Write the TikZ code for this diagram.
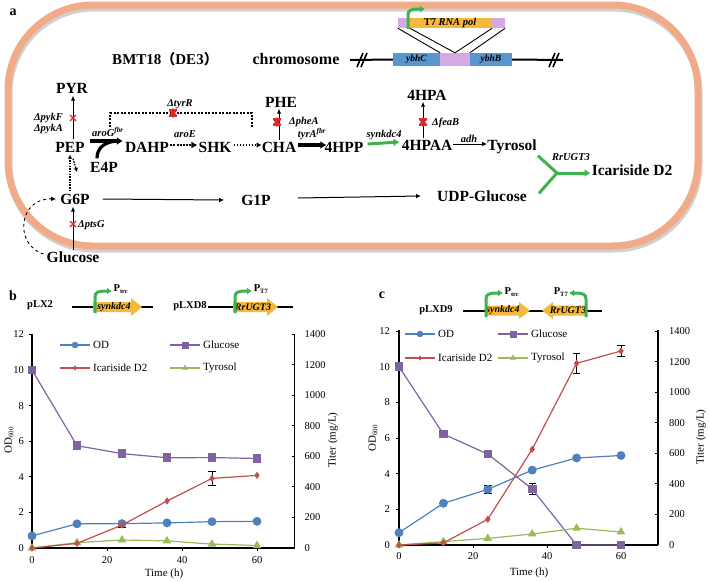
\documentclass[tikz,border=0pt]{standalone}
\usepackage{fontspec}
\setmainfont{Liberation Serif}
\newfontfamily\cjk{Noto Sans CJK SC}
\usetikzlibrary{arrows.meta,calc,plotmarks}
\definecolor{cellor}{RGB}{240,172,136}
\definecolor{genblue}{RGB}{88,150,205}
\definecolor{genpur}{RGB}{214,168,228}
\definecolor{genor}{RGB}{246,184,58}
\definecolor{prgreen}{RGB}{62,178,76}
\definecolor{kored}{RGB}{222,40,40}
\definecolor{cOD}{RGB}{79,129,189}
\definecolor{cGlu}{RGB}{128,100,162}
\definecolor{cIca}{RGB}{192,80,77}
\definecolor{cTyr}{RGB}{155,187,89}
\begin{document}
\begin{tikzpicture}[x=1pt,y=-1pt,
  met/.style={font=\fontsize{15.5}{16}\selectfont\bfseries, inner sep=0pt, text height=11pt, text depth=0pt},
  enz/.style={font=\fontsize{10.5}{11}\selectfont\bfseries\itshape, inner sep=0pt, text height=7.5pt, text depth=0pt},
  thinarr/.style={line width=1pt,-{Latex[length=5pt,width=4.5pt]}},
  fatarr/.style={line width=3.2pt,-{Latex[length=6pt,width=8pt]}},
  dotarr/.style={line width=2.6pt,dash pattern=on 2pt off 1.2pt,-{Latex[length=6pt,width=7pt]}},
  dotarrb/.style={line width=2pt,dash pattern=on 1.8pt off 1.2pt,-{Latex[length=5pt,width=5.5pt]}},
  smalldot/.style={line width=1.3pt,dash pattern=on 1.5pt off 1.2pt,-{Latex[length=4pt,width=4.5pt]}},
  grarr/.style={line width=3pt,prgreen,-{Latex[length=6pt,width=8pt]}},
  fbline/.style={line width=2pt,dash pattern=on 2pt off 1.5pt},
  kox/.style={kored,line width=1.4pt},
  kob/.style={kored,line width=2.6pt,line cap=round},
  prom/.style={line width=3pt,prgreen,-{Latex[length=5pt,width=7pt]}},
  genetxt/.style={font=\fontsize{10}{11}\selectfont\bfseries\itshape, inner sep=0pt},
  plas/.style={font=\fontsize{10.5}{11}\selectfont\bfseries, inner sep=0pt},
  plab/.style={font=\fontsize{14}{14}\selectfont\bfseries, inner sep=0pt, anchor=base},
  tick/.style={font=\fontsize{10.5}{11}\selectfont, inner sep=0pt},
  axl/.style={line width=1.8pt},
  leg/.style={font=\fontsize{11}{12}\selectfont, inner sep=0pt, anchor=west},
  serie/.style={line width=1.2pt},
  ebar/.style={line width=0.7pt}
]
\useasboundingbox (0,0) rectangle (709,581);
\fill[white] (0,0) rectangle (709,581);

% ===== cell =====
\draw[line width=7pt, black!18, rounded corners=85pt] (9,8) rectangle (699,249);
\draw[line width=7pt, cellor, rounded corners=85pt] (8,5) rectangle (698,246);
\node[plab] (la) at (13,15) {a};

\node[font=\fontsize{15}{16}\selectfont\bfseries, inner sep=0pt] (bmt) at (165,59) {BMT18{\cjk\fontsize{14}{14}\selectfont （}DE3{\cjk\fontsize{14}{14}\selectfont ）}};
\node[font=\fontsize{16}{16}\selectfont\bfseries, inner sep=0pt] (chrom) at (296,59) {chromosome};

% chromosome
\node[fill=genblue, minimum width=47pt, minimum height=13pt, inner sep=0pt, font=\fontsize{9.5}{10}\selectfont\bfseries\itshape] (ybhC) at (416.5,59.5) {ybhC};
\node[fill=genpur, minimum width=30pt, minimum height=13pt, inner sep=0pt] (mid) at (455,59.5) {};
\node[fill=genblue, minimum width=42pt, minimum height=13pt, inner sep=0pt, font=\fontsize{9.5}{10}\selectfont\bfseries\itshape] (ybhB) at (491,59.5) {ybhB};
\coordinate (chL) at (350,60);
\coordinate (chR) at (563,60);
\draw[line width=2pt] (chL) -- (ybhC.west);
\draw[line width=2pt] (ybhB.east) -- (chR);
\foreach \xx in {357,549} {
  \draw[line width=1.6pt] (\xx,67) -- (\xx+6,53);
  \draw[line width=1.6pt] (\xx+4,67) -- (\xx+10,53);
}
\node[fill=genpur, minimum width=107pt, minimum height=10pt, inner sep=0pt] (ins) at (451.5,23) {};
\node[fill=genor, minimum width=84pt, minimum height=10pt, inner sep=0pt, font=\fontsize{10.5}{11}\selectfont\bfseries] (t7) at (450,23) {T7 \textit{RNA pol}};
\draw[line width=0.9pt] (ins.south west) -- (ybhC.north east);
\draw[line width=0.9pt] ([xshift=12pt]ins.south west) -- (mid.north);
\draw[line width=0.9pt] ([xshift=-13pt]ins.south east) -- (mid.north);
\draw[line width=0.9pt] (ins.south east) -- (ybhB.north west);
\draw[prom] (408,29) -- (408,15) .. controls (408,10) and (411,9) .. (425,9);

% ===== metabolites =====
\node[met] (PYR) at (72,88) {PYR};
\node[met] (PEP) at (70,147) {PEP};
\node[met] (DAHP) at (147,147) {DAHP};
\node[met] (SHK) at (215,147) {SHK};
\node[met] (CHA) at (279,147) {CHA};
\node[met] (HPP) at (344,147) {4HPP};
\node[met] (HPAA) at (427,145) {4HPAA};
\node[met] (Tyr) at (512,145) {Tyrosol};
\node[met] (PHE) at (281,102) {PHE};
\node[met] (HPA) at (427,95) {4HPA};
\node[met] (E4P) at (104,167) {E4P};
\node[met] (G6P) at (75,199) {G6P};
\node[met] (G1P) at (256,200) {G1P};
\node[met] (UDPG) at (482,196) {UDP-Glucose};
\node[met] (Glc) at (73,257) {Glucose};
\node[met] (Ica) at (632,170) {Icariside D2};

% enzyme / deletion labels
\node[enz, anchor=east] (dpykF) at (63,117) {ΔpykF};
\node[enz, anchor=east] (dpykA) at (63,128) {ΔpykA};
\node[enz] (aroG) at (108,133) {aroG\textsuperscript{fbr}};
\node[enz] (dtyrR) at (180,103) {ΔtyrR};
\node[enz] (aroE) at (185,134) {aroE};
\node[enz] (tyrA) at (312,134) {tyrA\textsuperscript{fbr}};
\node[enz, anchor=west] (dpheA) at (289,121) {ΔpheA};
\node[enz] (synk) at (384,134) {synkdc4};
\node[enz] (adh) at (469,139) {adh};
\node[enz, anchor=west] (dfeaB) at (432,122) {ΔfeaB};
\node[enz, anchor=west] (dptsG) at (78,224) {ΔptsG};
\node[enz] (ugt) at (571,157) {RrUGT3};

% arrows
\draw[thinarr] ([xshift=3pt,yshift=2pt]PEP.north) -- ([xshift=1pt,yshift=-2pt]PYR.south);
\draw[fatarr] ([xshift=5pt,yshift=6pt]PEP.east) -- ([xshift=-2pt,yshift=6pt]DAHP.west);
\draw[line width=3.2pt] ([xshift=-7pt,yshift=3pt]E4P.north) .. controls (97,149) and (103,142) .. (117,141);
\draw[dotarr] ([xshift=1pt,yshift=2pt]DAHP.east) -- ([xshift=-1pt,yshift=2pt]SHK.west);
\draw[dotarrb] ([xshift=2pt,yshift=2pt]SHK.east) -- ([xshift=0pt,yshift=2pt]CHA.west);
\draw[fatarr] ([xshift=2pt,yshift=2pt]CHA.east) -- ([xshift=2pt,yshift=2pt]HPP.west);
\draw[grarr] ([xshift=4pt,yshift=3pt]HPP.east) -- ([xshift=-2pt,yshift=3pt]HPAA.west);
\draw[thinarr] ([xshift=1pt,yshift=1pt]HPAA.east) -- ([xshift=0pt,yshift=1pt]Tyr.west);
\draw[thinarr] ([yshift=1pt]CHA.north) -- ([xshift=-2pt,yshift=-1pt]PHE.south);
\draw[thinarr] ([xshift=-4pt,yshift=1pt]HPAA.north) -- ([xshift=-4pt,yshift=-1pt]HPA.south);
\draw[thinarr] ([xshift=13pt]G6P.east) -- ([xshift=-17pt]G1P.west);
\draw[thinarr] ([xshift=27pt,yshift=2pt]G1P.east) -- ([xshift=-16pt]UDPG.west);
\draw[thinarr] ([yshift=1pt]Glc.north) -- ([xshift=-2pt,yshift=-2pt]G6P.south);
\draw[thinarr, dashed, line width=0.9pt] ([xshift=-3pt,yshift=3pt]Glc.west) .. controls (14,245) and (18,198) .. ([xshift=-4pt]G6P.west);
\draw[smalldot] ([xshift=-5pt,yshift=2pt]G6P.north) -- ([yshift=-2pt]PEP.south);
\draw[smalldot] ([xshift=3pt,yshift=-6pt]PEP.south) -- ([xshift=-13pt,yshift=-5pt]E4P.west);

% feedback tyrR
\coordinate (fb1) at (110,127);
\coordinate (fb2) at (252,128);
\draw[fbline] (fb1) -- (110,113) -- (252,113) -- (fb2);

% knock-out marks
\draw[kox] (70,115) -- (76,121) (70,121) -- (76,115);
\draw[kox] (70,221) -- (76,227) (70,227) -- (76,221);
\draw[kob] (170,110) -- (176,116) (170,116) -- (176,110) (173,109.5) -- (173,116.5);
\draw[kob] (274,119) -- (280,125) (274,125) -- (280,119) (277,118.5) -- (277,125.5);
\draw[kob] (420,119) -- (426,125) (420,125) -- (426,119) (423,118.5) -- (423,125.5);

% green Y
\coordinate (Yj) at (557,173);
\draw[line width=3pt, prgreen] ([xshift=1pt,yshift=-5pt]Tyr.south east) -- (Yj);
\draw[line width=3pt, prgreen] ([xshift=12pt,yshift=-3pt]UDPG.north east) -- (Yj);
\draw[grarr] (Yj) -- ([xshift=-1pt,yshift=-3pt]Ica.west);

% ===== panel b =====
\node[plab] (lb) at (13,300) {b};
\node[plas] (pLX2) at (40,305) {pLX2};
\coordinate (bl1) at (72,307);
\coordinate (bl2) at (153,307);
\draw[line width=1.4pt] (bl1) -- (bl2);
\fill[genor] (93,302) -- (131,302) -- (131,298) -- (142,307) -- (131,316) -- (131,312) -- (93,312) -- cycle;
\node[genetxt] (gb1) at (114,307) {synkdc4};
\draw[prom] (95,313) -- (95,297) .. controls (95,292) and (98,291) .. (112,291);
\node[plas] (ptrcb) at (121,289) {P\textsubscript{\fontsize{6.5}{7}\selectfont trc}};
\node[plas] (pLXD8) at (190,306) {pLXD8};
\coordinate (bl3) at (208,307);
\coordinate (bl4) at (293,307);
\draw[line width=1.4pt] (bl3) -- (bl4);
\fill[genor] (233,302) -- (267,302) -- (267,298) -- (278,307) -- (267,316) -- (267,312) -- (233,312) -- cycle;
\node[genetxt] (gb2) at (253,307) {RrUGT3};
\draw[prom] (235,313) -- (235,297) .. controls (235,292) and (238,291) .. (252,291);
\node[plas] (pt7b) at (261,289) {P\textsubscript{\fontsize{6.5}{7}\selectfont T7}};

\begin{scope}[shift={(32,548)},x=3.75pt,y=17.8pt]
  \draw[axl] (0,0) -- (0,12.05);
  \foreach \v in {0,2,...,12} {\draw[line width=1pt] (0,\v) -- ++(-3pt,0pt); \node[tick,anchor=east,xshift=-8pt] (bL\v) at (0,\v) {\v};}
  \draw[axl] (0,0) -- (70,0);
  \foreach \t in {0,20,40,60} {\draw[line width=1pt] (\t,0) -- ++(0pt,-3pt); \node[tick,anchor=north,yshift=-8pt] (bX\t) at (\t,0) {\t};}
  \draw[axl] (70,0) -- (70,12.05);
  \foreach \m in {0,200,...,1400} {\draw[line width=1pt] (70,\m/116.667) -- ++(-3pt,0pt); \node[tick,anchor=west,xshift=10pt] (bR\m) at (70,\m/116.667) {\m};}
  \draw[ebar] (24,1.14) -- (24,1.44) (23,1.14) -- (25,1.14) (23,1.44) -- (25,1.44);
  \draw[ebar] (48,3.51) -- (48,4.31) (47,3.51) -- (49,3.51) (47,4.31) -- (49,4.31);
  \draw[serie,cGlu] plot[mark=square*,mark size=3.7pt,mark options={fill=cGlu}] coordinates {(0,10) (12,5.75) (24,5.3) (36,5.07) (48,5.08) (60,5.03)};
  \draw[serie,cOD] plot[mark=*,mark size=3.8pt,mark options={fill=cOD}] coordinates {(0,0.68) (12,1.36) (24,1.37) (36,1.41) (48,1.48) (60,1.5)};
  \draw[serie,cTyr] plot[mark=triangle*,mark size=3.8pt,mark options={fill=cTyr}] coordinates {(0,0) (12,0.3) (24,0.45) (36,0.4) (48,0.22) (60,0.14)};
  \draw[serie,cIca] plot[mark=diamond*,mark size=2.6pt,mark options={fill=cIca}] coordinates {(0,0) (12,0.26) (24,1.29) (36,2.64) (48,3.91) (60,4.08)};
\end{scope}
\node[tick, rotate=90, font=\fontsize{11}{12}\selectfont] (bODl) at (9,440) {OD\textsubscript{\fontsize{7}{7}\selectfont 600}};
\node[tick, rotate=90, font=\fontsize{11}{12}\selectfont] (bTil) at (333,440) {Titer (mg/L)};
\node[tick, font=\fontsize{11}{12}\selectfont] (bTm) at (164,574) {Time (h)};
% legend b
\draw[serie,cOD] (60,345) -- (90,345);
\path[cOD] plot[mark=*,mark size=3pt,mark options={fill=cOD}] coordinates {(75,345)};
\node[leg] (bl-od) at (93,345) {OD};
\draw[serie,cGlu] (170,345) -- (200,345);
\path[cGlu] plot[mark=square*,mark size=3pt,mark options={fill=cGlu}] coordinates {(185,345)};
\node[leg] (bl-glc) at (203,345) {Glucose};
\draw[serie,cIca] (60,368) -- (90,368);
\path[cIca] plot[mark=diamond*,mark size=2.2pt,mark options={fill=cIca}] coordinates {(75,368)};
\node[leg] (bl-ica) at (93,368) {Icariside D2};
\draw[serie,cTyr] (170,368) -- (200,368);
\path[cTyr] plot[mark=triangle*,mark size=3pt,mark options={fill=cTyr}] coordinates {(185,368)};
\node[leg] (bl-tyr) at (203,368) {Tyrosol};

% ===== panel c =====
\node[plab] (lc) at (382,298) {c};
\node[plas] (pLXD9) at (436,310) {pLXD9};
\coordinate (cl1) at (463,311);
\coordinate (cl2) at (602,311);
\draw[line width=1.4pt] (cl1) -- (cl2);
\fill[genor] (485,305.5) -- (519,305.5) -- (519,302) -- (530,310.5) -- (519,319) -- (519,315.5) -- (485,315.5) -- cycle;
\node[genetxt] (gc1) at (503,310.5) {synkdc4};
\fill[genor] (587,305.5) -- (553,305.5) -- (553,302) -- (542,310.5) -- (553,319) -- (553,315.5) -- (587,315.5) -- cycle;
\node[genetxt] (gc2) at (568,310.5) {RrUGT3};
\draw[prom] (486,317) -- (486,299) .. controls (486,294) and (489,293) .. (503,293);
\draw[prom] (586,317) -- (586,299) .. controls (586,294) and (583,293) .. (569,293);
\node[plas] (ptrcc) at (512,292) {P\textsubscript{\fontsize{6.5}{7}\selectfont trc}};
\node[plas] (pt7c) at (561,292) {P\textsubscript{\fontsize{6.5}{7}\selectfont T7}};

\begin{scope}[shift={(399,545)},x=3.7pt,y=17.83pt]
  \draw[axl] (0,0) -- (0,12.05);
  \foreach \v in {0,2,...,12} {\draw[line width=1pt] (0,\v) -- ++(-3pt,0pt); \node[tick,anchor=east,xshift=-9pt] (cL\v) at (0,\v) {\v};}
  \draw[axl] (0,0) -- (70,0);
  \foreach \t in {0,20,40,60} {\draw[line width=1pt] (\t,0) -- ++(0pt,-3pt); \node[tick,anchor=north,yshift=-7pt] (cX\t) at (\t,0) {\t};}
  \draw[axl] (70,0) -- (70,12.05);
  \foreach \m in {0,200,...,1400} {\draw[line width=1pt] (70,\m/116.667) -- ++(-3pt,0pt); \node[tick,anchor=west,xshift=11pt] (cR\m) at (70,\m/116.667) {\m};}
  \draw[ebar] (24,2.92) -- (24,3.32) (23,2.92) -- (25,2.92) (23,3.32) -- (25,3.32);
  \draw[ebar] (36,2.84) -- (36,3.44) (35,2.84) -- (37,2.84) (35,3.44) -- (37,3.44);
  \draw[ebar] (48,9.64) -- (48,10.74) (47,9.64) -- (49,9.64) (47,10.74) -- (49,10.74);
  \draw[ebar] (60,10.58) -- (60,11.18) (59,10.58) -- (61,10.58) (59,11.18) -- (61,11.18);
  \draw[serie,cOD] plot[mark=*,mark size=3.8pt,mark options={fill=cOD}] coordinates {(0,0.69) (12,2.34) (24,3.12) (36,4.2) (48,4.88) (60,5.02)};
  \draw[serie,cGlu] plot[mark=square*,mark size=3.7pt,mark options={fill=cGlu}] coordinates {(0,10) (12,6.22) (24,5.1) (36,3.14) (48,0) (60,0)};
  \draw[serie,cTyr] plot[mark=triangle*,mark size=3.8pt,mark options={fill=cTyr}] coordinates {(0,0) (12,0.19) (24,0.37) (36,0.62) (48,0.94) (60,0.73)};
  \draw[serie,cIca] plot[mark=diamond*,mark size=2.6pt,mark options={fill=cIca}] coordinates {(0,0) (12,0.12) (24,1.44) (36,5.37) (48,10.19) (60,10.88)};
\end{scope}
\node[tick, rotate=90, font=\fontsize{11}{12}\selectfont] (cODl) at (373,438) {OD\textsubscript{\fontsize{7}{7}\selectfont 600}};
\node[tick, rotate=90, font=\fontsize{11}{12}\selectfont] (cTil) at (701,437) {Titer (mg/L)};
\node[tick, font=\fontsize{11}{12}\selectfont] (cTm) at (529,573) {Time (h)};
% legend c
\draw[serie,cOD] (405,334) -- (435,334);
\path[cOD] plot[mark=*,mark size=3pt,mark options={fill=cOD}] coordinates {(420,334)};
\node[leg] (cl-od) at (438,334) {OD};
\draw[serie,cGlu] (498,334) -- (528,334);
\path[cGlu] plot[mark=square*,mark size=3pt,mark options={fill=cGlu}] coordinates {(513,334)};
\node[leg] (cl-glc) at (531,334) {Glucose};
\draw[serie,cIca] (405,358) -- (435,358);
\path[cIca] plot[mark=diamond*,mark size=2.2pt,mark options={fill=cIca}] coordinates {(420,358)};
\node[leg] (cl-ica) at (438,358) {Icariside D2};
\draw[serie,cTyr] (498,358) -- (528,358);
\path[cTyr] plot[mark=triangle*,mark size=3pt,mark options={fill=cTyr}] coordinates {(513,358)};
\node[leg] (cl-tyr) at (531,358) {Tyrosol};
\end{tikzpicture}
\end{document}
